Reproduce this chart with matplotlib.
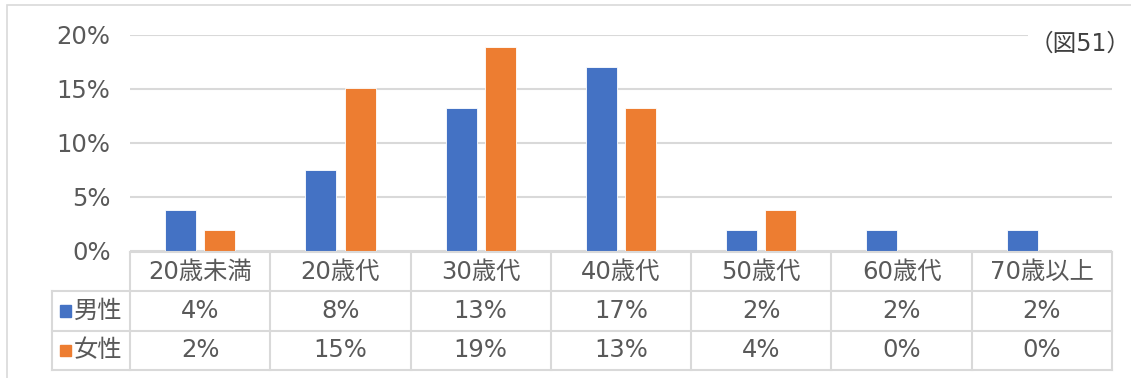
import matplotlib
matplotlib.use("Agg")
import matplotlib.pyplot as plt
from matplotlib.patches import Rectangle
import numpy as np

# digits from DejaVu (wider), kanji from Noto CJK
plt.rcParams['font.family'] = ['DejaVu Sans', 'Noto Sans CJK JP']

categories = ['20歳未満', '20歳代', '30歳代', '40歳代', '50歳代', '60歳代', '70歳以上']
male = [3.8, 7.5, 13.2, 17.0, 1.9, 1.9, 1.9]
female = [1.9, 15.1, 18.9, 13.2, 3.8, 0.0, 0.0]
male_lbl = ['4%', '8%', '13%', '17%', '2%', '2%', '2%']
female_lbl = ['2%', '15%', '19%', '13%', '4%', '0%', '0%']
series = ['男性', '女性']
yticks = [0, 5, 10, 15, 20]

W, H = 1131, 378
blue = '#4472C4'
orange = '#ED7D31'
txt = '#595959'
grid = '#D9D9D9'
fs = 17.5

fig = plt.figure(figsize=(W / 100, H / 100), dpi=100)

# outer chart border (right/bottom cropped off)
fig.patches.append(Rectangle((7 / W, -0.1), 1.2, (H - 5) / H + 0.1,
                             transform=fig.transFigure, fill=False,
                             edgecolor=grid, linewidth=1.2))

# bar area
ax = fig.add_axes([130 / W, (H - 251) / H, 982 / W, 216 / H])
x = np.arange(len(categories))
bw = 0.22
ax.bar(x - 0.14, male, bw, color=blue, edgecolor='white', linewidth=0.6, zorder=3)
ax.bar(x + 0.14, female, bw, color=orange, edgecolor='white', linewidth=0.6, zorder=3)
ax.set_xlim(-0.5, len(categories) - 0.5)
ax.set_ylim(0, 20)
ax.set_yticks(yticks)
ax.set_yticklabels([f'{v}%' for v in yticks], fontsize=fs, color=txt)
ax.tick_params(axis='y', length=0, pad=14)
ax.set_xticks([])
for s in ax.spines.values():
    s.set_visible(False)
ax.yaxis.grid(True, color=grid, linewidth=1.5, zorder=0)
ax.set_axisbelow(True)

# data table
tx0, tx1 = 52, 1112
ty0, ty1 = 252, 370
tax = fig.add_axes([tx0 / W, (H - ty1) / H, (tx1 - tx0) / W, (ty1 - ty0) / H])
hdr = (130 - 52) / (982 / 7)
tax.set_xlim(-0.5 - hdr, len(categories) - 0.5)
tax.set_ylim(3, 0)
tax.axis('off')
lw = 1.5
tax.plot([-0.5, len(categories) - 0.5], [0, 0], color=grid, lw=lw, clip_on=False)
for r in [1, 2, 3]:
    tax.plot([-0.5 - hdr, len(categories) - 0.5], [r, r], color=grid, lw=lw, clip_on=False)
for c in range(len(categories) + 1):
    tax.plot([c - 0.5, c - 0.5], [0, 3], color=grid, lw=lw, clip_on=False)
tax.plot([-0.5 - hdr, -0.5 - hdr], [1, 3], color=grid, lw=lw, clip_on=False)

for i, cat in enumerate(categories):
    tax.text(i, 0.5, cat, ha='center', va='center', fontsize=fs, color=txt)
    tax.text(i, 1.5, male_lbl[i], ha='center', va='center', fontsize=fs, color=txt)
    tax.text(i, 2.5, female_lbl[i], ha='center', va='center', fontsize=fs, color=txt)

for r, (name, col) in enumerate(zip(series, [blue, orange])):
    yc = 1.5 + r
    tax.add_patch(Rectangle((-0.5 - hdr + 8 / 140.3, yc - 0.14), 11 / 140.3, 0.28,
                            color=col, clip_on=False))
    tax.text(-0.5 - hdr + 22 / 140.3, yc, name, ha='left', va='center', fontsize=fs, color=txt)

fig.text(1080 / W, (H - 44) / H, '（図51）', ha='center', va='center', fontsize=17,
         color='#404040', bbox=dict(facecolor='white', edgecolor='none', pad=1))

fig.savefig('out.png', dpi=100)
